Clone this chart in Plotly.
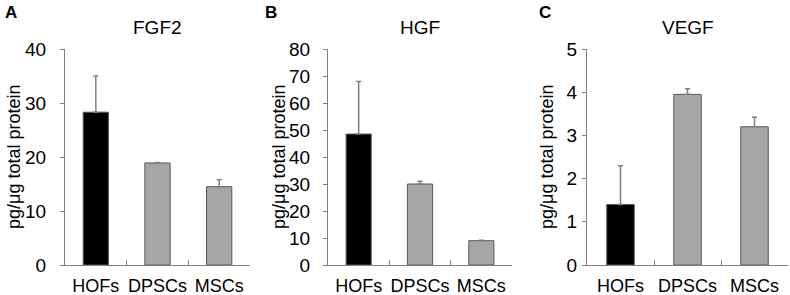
import plotly.graph_objects as go

categories = ["HOFs", "DPSCs", "MSCs"]

fgf2_values = [28.3, 18.9, 14.5]
fgf2_errors = [6.7, 0.1, 1.3]

hgf_values = [48.5, 30.0, 9.0]
hgf_errors = [19.5, 1.0, 0.2]

vegf_values = [1.4, 3.95, 3.2]
vegf_errors = [0.9, 0.13, 0.22]

panel_titles = ["FGF2", "HGF", "VEGF"]
panel_letters = ["A", "B", "C"]
y_ranges = [[0, 40], [0, 80], [0, 5]]
y_dticks = [10, 10, 1]
y_title = "pg/μg total protein"

bar_colors = ["#000000", "#a6a6a6", "#a6a6a6"]
axis_color = "#808080"
FONT = "Liberation Sans, Arial, sans-serif"

W, H = 790, 295
x_domains_px = [(65, 250), (328, 512), (587, 788)]
y_domain = [1 - 265 / H, 1 - 49 / H]
letter_x_px = [3, 263, 537]
label_standoff = [10, 9, 1]
ytitle_x_px = [14, 279, 547]

data = [(fgf2_values, fgf2_errors), (hgf_values, hgf_errors), (vegf_values, vegf_errors)]

fig = go.Figure()
annotations = []
for i, (vals, errs) in enumerate(data):
    sfx = "" if i == 0 else str(i + 1)
    fig.add_trace(go.Bar(
        x=categories, y=vals,
        xaxis="x" + sfx, yaxis="y" + sfx,
        width=0.41,
        marker=dict(color=bar_colors, line=dict(color="#595959", width=1)),
        error_y=dict(type="data", array=errs, arrayminus=[0, 0, 0], symmetric=False,
                     color=axis_color, thickness=1.5, width=2.5),
        showlegend=False,
    ))
    d0, d1 = x_domains_px[i]
    fig.layout["xaxis" + sfx] = dict(
        domain=[d0 / W, d1 / W], anchor="y" + sfx, automargin=False,
        range=[-0.5, 2.5], showline=True, linecolor=axis_color, linewidth=1,
        ticks="inside", tickson="boundaries", ticklen=5, tickcolor=axis_color,
        tickangle=0, ticklabelstandoff=4,
        tickfont=dict(family=FONT, size=18, color="#000"), showgrid=False,
        fixedrange=True,
    )
    fig.layout["yaxis" + sfx] = dict(
        domain=y_domain, anchor="x" + sfx, automargin=False,
        range=y_ranges[i], dtick=y_dticks[i], showline=True, linecolor=axis_color,
        linewidth=1, ticks="outside", ticklen=4, tickcolor=axis_color,
        ticklabelstandoff=label_standoff[i],
        tickfont=dict(family=FONT, size=19, color="#000"), showgrid=False,
        zeroline=False, fixedrange=True,
    )
    annotations.append(dict(
        x=ytitle_x_px[i] / W, y=(y_domain[0] + y_domain[1]) / 2, xref="paper", yref="paper",
        text=y_title, textangle=-90, showarrow=False, xanchor="center", yanchor="middle",
        font=dict(family=FONT, size=18, color="#000"),
    ))
    annotations.append(dict(
        x=(d0 + d1) / 2 / W, y=1 - 27 / H, xref="paper", yref="paper",
        text=panel_titles[i], showarrow=False, xanchor="center", yanchor="middle",
        font=dict(family=FONT, size=19, color="#000"),
    ))
    annotations.append(dict(
        x=letter_x_px[i] / W, y=1 - 12 / H, xref="paper", yref="paper",
        text="<b>" + panel_letters[i] + "</b>", showarrow=False,
        xanchor="left", yanchor="middle",
        font=dict(family=FONT, size=17, color="#000"),
    ))

fig.update_layout(
    width=W, height=H, margin=dict(l=0, r=0, t=0, b=0, autoexpand=False),
    plot_bgcolor="white", paper_bgcolor="white",
    annotations=annotations, hovermode=False,
)

fig.write_html(
    "out.html",
    config={"displayModeBar": False, "staticPlot": True},
    post_script="document.body.style.margin='0';document.body.style.overflow='hidden';",
)
